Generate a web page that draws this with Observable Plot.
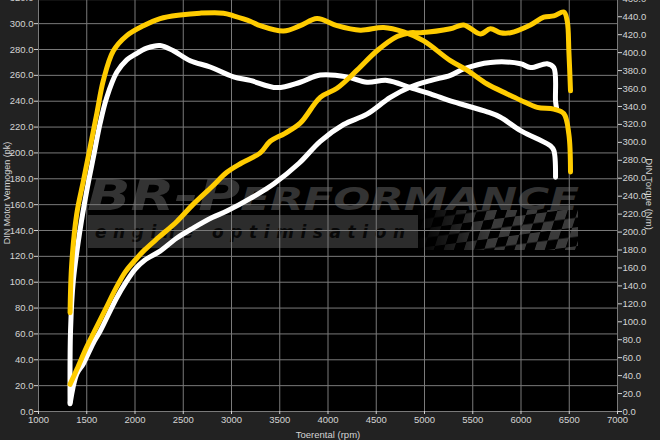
<!DOCTYPE html>
<html><head><meta charset="utf-8">
<script src="https://cdn.jsdelivr.net/npm/d3@7"></script>
<script src="https://cdn.jsdelivr.net/npm/@observablehq/plot@0.6"></script>
<style>
html,body{margin:0;padding:0;background:#222;}
#chart{width:660px;height:440px;overflow:hidden;}
</style></head><body><div id="chart"></div>
<script>
// Axis ticks
const rpmTicks = [1000,1500,2000,2500,3000,3500,4000,4500,5000,5500,6000,6500,7000];
const pkTicks = [0,20,40,60,80,100,120,140,160,180,200,220,240,260,280,300,320];
const nmTicks = [0,20,40,60,80,100,120,140,160,180,200,220,240,260,280,300,320,340,360,380,400,420,440,460];
const pkMax = 317.9;   // top of left axis
const nmMax = 458.1;   // top of right axis

// [rpm, pk]
const tunedPower = [[1327,21],[1400,33],[1500,50],[1600,65],[1700,80],[1800,95],[1900,108],[2000,117],[2100,125],[2250,135],[2434,147],[2600,160],[2800,174],[2952,185],[3100,192],[3298,200],[3401,209],[3550,215],[3712,223],[3920,243],[4093,250],[4301,264],[4508,279],[4716,290],[4854,293],[4957,293],[5268,296],[5406,299],[5580,292],[5683,296],[5787,293],[5891,293],[6098,299],[6236,305],[6340,306],[6444,309],[6479,302],[6496,279],[6513,248]];
const stockPower = [[1327,6],[1396,29],[1465,37],[1568,53],[1638,62],[1811,88],[1915,101],[2000,110],[2100,117],[2260,124],[2430,134],[2606,142],[2800,150],[2952,155],[3200,165],[3436,176],[3700,192],[3920,209],[4162,222],[4404,230],[4646,243],[4854,251],[5061,256],[5268,260],[5406,265],[5683,270],[5995,269],[6098,266],[6271,269],[6340,266],[6358,240],[6368,235]];
// [rpm, Nm]
const tunedTorque = [[1327,110],[1344,164],[1396,220],[1465,257],[1534,294],[1604,332],[1672,369],[1776,402],[1915,419],[2087,430],[2260,438],[2468,442],[2675,444],[2917,444],[3021,441],[3194,435],[3298,430],[3539,424],[3712,430],[3886,438],[4093,430],[4335,425],[4577,428],[4784,423],[4992,413],[5268,391],[5448,380],[5649,365],[5857,354],[5995,347],[6168,339],[6340,337],[6444,332],[6496,309],[6513,267]];
const stockTorque = [[1327,10],[1332,90],[1361,146],[1430,202],[1500,246],[1568,283],[1638,321],[1707,350],[1811,378],[1915,392],[2000,398],[2122,405],[2260,408],[2398,402],[2572,391],[2779,384],[3021,373],[3194,369],[3471,361],[3712,367],[3920,375],[4197,373],[4404,367],[4612,369],[4854,361],[5061,354],[5303,345],[5649,334],[5787,328],[5995,313],[6168,304],[6306,296],[6340,291],[6358,261]];

const k = pkMax / nmMax;
const yellow = "#ffcc00";
const white = "#ffffff";
const gridColor = "#7a7a7a";
const txt = "#d4d4d4";

const lineOpts = (color, scale) => ({
  x: d => d[0], y: d => d[1] * scale, stroke: color, strokeWidth: 5,
  curve: "catmull-rom", strokeLinejoin: "round", strokeLinecap: "round"
});

const plot = Plot.plot({
  width: 660, height: 440,
  marginLeft: 38, marginRight: 43, marginTop: 0, marginBottom: 29,
  style: {background: "#222", color: txt, fontFamily: "'Liberation Sans', Arial, sans-serif", fontSize: "9.5px"},
  x: {domain: [1000, 7000]},
  y: {domain: [0, pkMax]},
  marks: [
    Plot.frame({fill: "#000", stroke: null}),
    Plot.gridX(rpmTicks, {stroke: gridColor, strokeOpacity: 1, strokeWidth: 1}),
    Plot.gridY(pkTicks.filter(d => d <= pkMax), {stroke: gridColor, strokeOpacity: 1, strokeWidth: 1}),
    Plot.axisX(rpmTicks, {tickSize: 3, tickPadding: 2, tickFormat: d => String(d), label: null, fill: txt, stroke: txt}),
    Plot.axisY(pkTicks, {tickSize: 4, tickPadding: 1, tickFormat: d => d.toFixed(1), label: null, fill: txt, stroke: txt}),
    Plot.axisY(nmTicks.map(v => v * k), {anchor: "right", tickSize: 4, tickPadding: 1, tickFormat: d => (d / k).toFixed(1), label: null, fill: txt, stroke: txt}),
    Plot.text(["DIN Motor Vermogen (pk)"], {frameAnchor: "left", textAnchor: "middle", dx: -31, dy: -13, rotate: -90, fill: txt, fontSize: 9, text: d => d}),
    Plot.text(["DIN Torque (Nm)"], {frameAnchor: "right", textAnchor: "middle", dx: 32, dy: -12, rotate: 90, fill: txt, fontSize: 9.5, text: d => d}),
    Plot.text(["Toerental (rpm)"], {frameAnchor: "bottom", textAnchor: "middle", lineAnchor: "middle", dy: 23, fill: txt, fontSize: 9.5, text: d => d}),
    Plot.line(stockTorque, lineOpts(white, k)),
    Plot.line(stockPower, lineOpts(white, 1)),
    Plot.line(tunedTorque, lineOpts(yellow, k)),
    Plot.line(tunedPower, lineOpts(yellow, 1))
  ]
});

// Watermark logo (decoration), placed behind the grid
const frameNode = plot.querySelector('[aria-label="frame"]');
const wm = document.createElementNS("http://www.w3.org/2000/svg", "g");
frameNode.parentNode.insertBefore(wm, frameNode.nextSibling);
const g = d3.select(wm).attr("text-anchor", "start");
const fx = 38, fy = 0;
const defs = g.append("defs");
const pat = defs.append("pattern").attr("id", "chk").attr("patternUnits", "userSpaceOnUse")
  .attr("width", 20).attr("height", 20).attr("patternTransform", "skewX(-25) rotate(-8)");
pat.append("rect").attr("width", 10).attr("height", 10).attr("fill", "#3a3a3a");
pat.append("rect").attr("x", 10).attr("y", 10).attr("width", 10).attr("height", 10).attr("fill", "#3a3a3a");
const grad = defs.append("linearGradient").attr("id", "fade");
grad.append("stop").attr("offset", "0").attr("stop-color", "#fff").attr("stop-opacity", 0);
grad.append("stop").attr("offset", "0.45").attr("stop-color", "#fff").attr("stop-opacity", 1);
grad.append("stop").attr("offset", "1").attr("stop-color", "#fff").attr("stop-opacity", 1);
const mask = defs.append("mask").attr("id", "fmask");
mask.append("rect").attr("x", fx + 378).attr("y", fy + 208).attr("width", 165).attr("height", 42).attr("fill", "url(#fade)");
g.append("text")
  .attr("x", fx + 49).attr("y", fy + 210).attr("text-anchor", "start")
  .attr("font-family", "'DejaVu Sans', sans-serif").attr("font-weight", "bold").attr("font-style", "italic")
  .attr("fill", "#333").attr("textLength", 492).attr("lengthAdjust", "spacingAndGlyphs")
  .call(t => { t.append("tspan").attr("font-size", 42).text("BR-P"); t.append("tspan").attr("font-size", 32).text("ERFORMANCE"); });
g.append("rect").attr("x", fx + 50).attr("y", fy + 215).attr("width", 330).attr("height", 33).attr("fill", "#2c2c2c");
g.append("text")
  .attr("x", fx + 57).attr("y", fy + 238).attr("text-anchor", "start")
  .attr("font-family", "'DejaVu Sans', sans-serif").attr("font-weight", "bold").attr("font-style", "italic")
  .attr("font-size", 17).attr("fill", "#080808").attr("textLength", 310).attr("lengthAdjust", "spacing")
  .text("engine optimisation");
g.append("rect").attr("x", fx + 378).attr("y", fy + 210).attr("width", 162).attr("height", 40)
  .attr("fill", "url(#chk)").attr("mask", "url(#fmask)");

document.getElementById("chart").appendChild(plot);
</script>
</body></html>
